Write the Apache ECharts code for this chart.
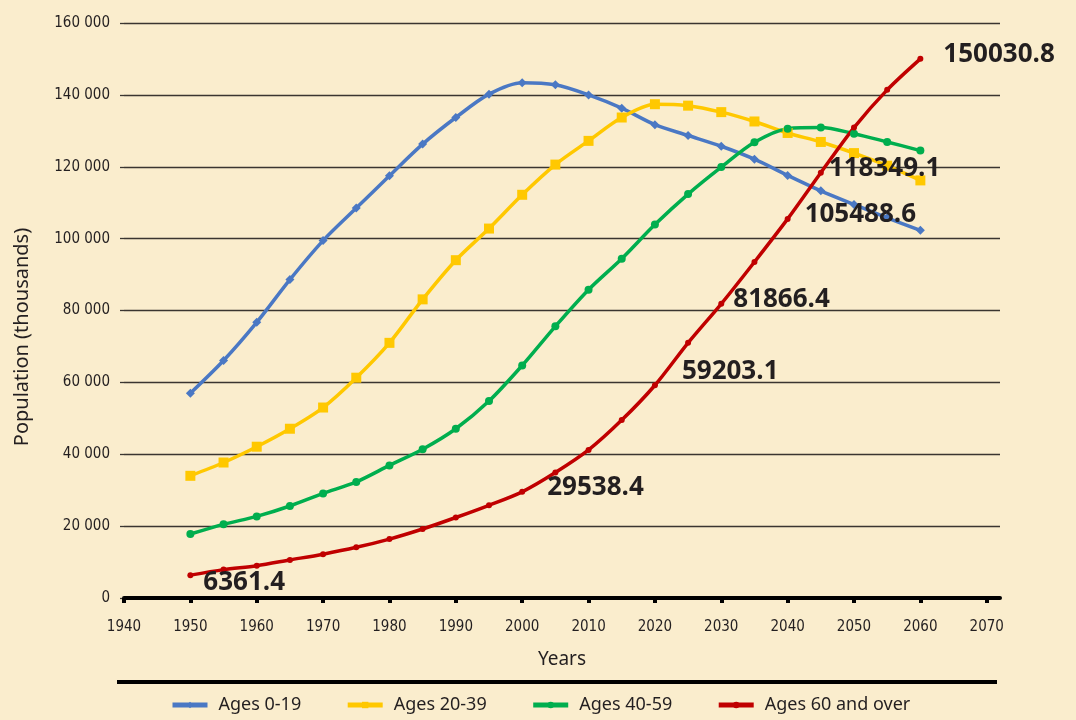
<!DOCTYPE html>
<html>
<head>
<meta charset="utf-8">
<script src="https://cdn.jsdelivr.net/npm/echarts@6/dist/echarts.min.js"></script>
<style>
  html, body { margin: 0; padding: 0; background: #FAEDCD; }
  #chart { width: 1076px; height: 720px; }
</style>
</head>
<body>
<div id="chart"></div>
<script>
// Population by age group, 1950–2060 (thousands)
const years = [1950, 1955, 1960, 1965, 1970, 1975, 1980, 1985, 1990, 1995, 2000, 2005,
               2010, 2015, 2020, 2025, 2030, 2035, 2040, 2045, 2050, 2055, 2060];
const ages0to19 = [57000, 66100, 76700, 88600, 99450, 108500, 117500, 126300, 133700, 140200, 143400, 142800,
                   140000, 136300, 131700, 128700, 125700, 122100, 117600, 113300, 109500, 105800, 102300];
const ages20to39 = [34000, 37700, 42100, 47100, 53000, 61300, 71000, 83100, 94000, 102800, 112200, 120600,
                    127200, 133700, 137400, 137000, 135200, 132600, 129400, 126900, 123800, 120300, 116200];
const ages40to59 = [17800, 20500, 22700, 25600, 29100, 32300, 36900, 41400, 47100, 54800, 64700, 75600,
                    85800, 94400, 103900, 112400, 119900, 126800, 130600, 130900, 129200, 126900, 124500];
const ages60plus = [6361.4, 7900, 9000, 10600, 12200, 14100, 16400, 19200, 22400, 25800, 29538.4, 34900,
                    41200, 49500, 59203.1, 71000, 81866.4, 93500, 105488.6, 118349.1, 130900, 141400, 150030.8];
const seriesNames = ['Ages 0-19', 'Ages 20-39', 'Ages 40-59', 'Ages 60 and over'];
const xTicks = [1940, 1950, 1960, 1970, 1980, 1990, 2000, 2010, 2020, 2030, 2040, 2050, 2060, 2070];
const labelledYears = [1950, 2000, 2020, 2030, 2040, 2045, 2060];

// label nudges (dx from point, dy) for the value labels on the 60+ line
const labelNudge = [[13, 7], [25, -4], [27, -14], [12, -4], [17, -4], [8, -4], [23, -4]];

const INK = '#231F20';
const NARROW = "'Liberation Sans Narrow', 'DejaVu Sans Condensed', sans-serif";
const SANS = "'Noto Sans', 'Open Sans', sans-serif";

function pairs(values) {
  return years.map((y, i) => [y, values[i]]);
}

function labelledPairs(values, symbolSize) {
  return years.map((y, i) => {
    const k = labelledYears.indexOf(y);
    if (k < 0) return [y, values[i]];
    return {
      value: [y, values[i]],
      label: {
        show: true,
        position: 'right',
        distance: labelNudge[k][0] - symbolSize / 2,
        offset: [0, labelNudge[k][1]],
        formatter: String(values[i]),
        fontFamily: "'Open Sans', 'Noto Sans', sans-serif",
        fontWeight: 'bold',
        fontSize: 26,
        color: INK
      }
    };
  });
}

function lineSeries(name, color, symbol, size, data) {
  return {
    name, type: 'line', data, smooth: 0.3,
    symbol, symbolSize: size,
    lineStyle: { color, width: 3.5 },
    itemStyle: { color },
    emphasis: { disabled: true },
    z: 3
  };
}

const chart = echarts.init(document.getElementById('chart'), null, { renderer: 'canvas' });
chart.setOption({
  backgroundColor: '#FAEDCD',
  animation: false,
  grid: { left: 124, right: 76, top: 23, bottom: 122 },
  legend: {
    data: seriesNames,
    left: 165, top: 691,
    itemWidth: 35, itemHeight: 8, itemGap: 44,
    lineStyle: { width: 5 },
    textStyle: { fontFamily: SANS, fontSize: 18, color: INK, padding: [0, 0, 0, 6] }
  },
  xAxis: {
    type: 'value', min: 1940, max: 2072,
    name: 'Years', nameLocation: 'middle', nameGap: 52,
    nameTextStyle: { fontFamily: SANS, fontSize: 19, color: INK },
    splitLine: { show: false },
    axisLine: { show: true, onZero: false, lineStyle: { color: '#000', width: 4 } },
    axisTick: { show: true, customValues: xTicks, length: 5, lineStyle: { color: '#000', width: 4 } },
    axisLabel: { customValues: xTicks, margin: 22, fontFamily: NARROW, fontSize: 15, color: INK,
                 formatter: v => String(v) }
  },
  yAxis: {
    type: 'value', min: 0, max: 160000, interval: 20000,
    axisLine: { show: false },
    axisTick: { show: true, length: 4, lineStyle: { color: '#3a3530', width: 1.3 } },
    splitLine: { show: true, lineStyle: { color: '#3a3530', width: 1.3 } },
    axisLabel: { margin: 14, fontFamily: NARROW, fontSize: 15, color: INK,
                 formatter: v => v === 0 ? '0' : (v / 1000) + ' 000' }
  },
  graphic: [
    { type: 'rect', shape: { x: 117, y: 680, width: 880, height: 4 }, style: { fill: '#000' }, silent: true },
    { type: 'text', x: 22, y: 337, rotation: Math.PI / 2,
      style: { text: 'Population (thousands)', fontFamily: SANS, fontSize: 20, fill: INK,
               textAlign: 'center', textVerticalAlign: 'middle' }, silent: true }
  ],
  series: [
    lineSeries(seriesNames[0], '#4A78C4', 'diamond', 9, pairs(ages0to19)),
    lineSeries(seriesNames[1], '#FFC800', 'rect', 10, pairs(ages20to39)),
    lineSeries(seriesNames[2], '#00AE4E', 'circle', 8, pairs(ages40to59)),
    lineSeries(seriesNames[3], '#C00000', 'circle', 6, labelledPairs(ages60plus, 6))
  ]
});
</script>
</body>
</html>
